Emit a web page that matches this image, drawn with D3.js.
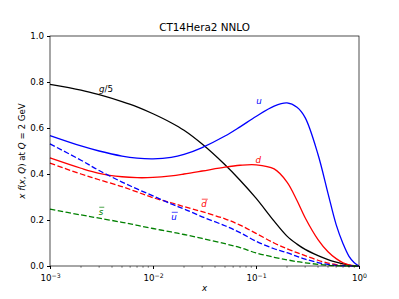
<!DOCTYPE html>
<html>
<head>
<meta charset="utf-8">
<script src="https://cdn.jsdelivr.net/npm/d3@7"></script>
<style>
  body { margin: 0; background: #fff; }
  svg { font-family: "DejaVu Sans", sans-serif; }
</style>
</head>
<body>
<svg id="chart" width="399" height="299"></svg>
<script>
// x grid the curves were read at
const xs = [0.001, 0.002, 0.003, 0.005, 0.007, 0.01, 0.015, 0.02, 0.03, 0.05, 0.07,
            0.1, 0.15, 0.2, 0.25, 0.3, 0.4, 0.5, 0.6, 0.7, 0.8, 0.9, 1.0];

const gluon5 = [0.79, 0.765, 0.745, 0.715, 0.692, 0.662, 0.623, 0.59, 0.53, 0.44, 0.373,
                0.295, 0.195, 0.13, 0.095, 0.072, 0.045, 0.028, 0.017, 0.009, 0.004, 0.001, 0];
const uVal = [0.567, 0.522, 0.50, 0.478, 0.469, 0.466, 0.472, 0.485, 0.515, 0.565, 0.605,
              0.65, 0.695, 0.709, 0.69, 0.645, 0.485, 0.316, 0.18, 0.097, 0.042, 0.014, 0];
const dVal = [0.47, 0.425, 0.403, 0.388, 0.384, 0.385, 0.392, 0.40, 0.413, 0.43, 0.438,
              0.44, 0.422, 0.365, 0.285, 0.21, 0.115, 0.062, 0.032, 0.014, 0.005, 0.001, 0];
const dbar = [0.447, 0.40, 0.375, 0.345, 0.322, 0.297, 0.275, 0.258, 0.236, 0.205, 0.178,
              0.142, 0.10, 0.075, 0.058, 0.045, 0.025, 0.013, 0.006, 0.0025, 0.0008, 0.0001, 0];
const ubar = [0.531, 0.46, 0.415, 0.365, 0.335, 0.305, 0.27, 0.248, 0.214, 0.175, 0.145,
              0.108, 0.075, 0.058, 0.042, 0.03, 0.015, 0.007, 0.003, 0.001, 0.0003, 0, 0];
const sbar = [0.247, 0.222, 0.208, 0.19, 0.177, 0.163, 0.148, 0.137, 0.12, 0.097, 0.08,
              0.057, 0.038, 0.027, 0.019, 0.014, 0.007, 0.003, 0.0012, 0.0004, 0.0001, 0, 0];

const yTicks = [0.0, 0.2, 0.4, 0.6, 0.8, 1.0];
const xTicks = [1e-3, 1e-2, 1e-1, 1];
const xTickExp = ["\u22123", "\u22122", "\u22121", "0"];

const series = [
  {vals: gluon5, color: "black", dash: null},
  {vals: uVal, color: "blue", dash: null},
  {vals: dVal, color: "red", dash: null},
  {vals: dbar, color: "red", dash: "5.5,2.4"},
  {vals: ubar, color: "blue", dash: "5.5,2.4"},
  {vals: sbar, color: "green", dash: "5.5,2.4"}
];

// curve labels
const labels = [
  {t: "g/5", bar: false, x: 0.0035, y: 0.758, color: "black"},
  {t: "u", bar: false, x: 0.107, y: 0.704, color: "blue"},
  {t: "d", bar: false, x: 0.105, y: 0.448, color: "red"},
  {t: "d", bar: true, x: 0.0313, y: 0.257, color: "red"},
  {t: "u", bar: true, x: 0.016, y: 0.20, color: "blue"},
  {t: "s", bar: true, x: 0.00313, y: 0.222, color: "green"}
];

const svg = d3.select("#chart");
const mLeft = 50, mRight = 359, mTop = 36, mBottom = 266;

const x = d3.scaleLog().domain([1e-3, 1]).range([mLeft, mRight]);
const y = d3.scaleLinear().domain([0, 1]).range([mBottom, mTop]);

// curves
const line = d3.line()
  .x(d => x(d[0]))
  .y(d => y(d[1]))
  .curve(d3.curveCatmullRom.alpha(0.5));

svg.append("g").selectAll("path")
  .data(series)
  .enter().append("path")
  .attr("d", s => line(xs.map((v, i) => [v, s.vals[i]])))
  .attr("fill", "none")
  .attr("stroke", s => s.color)
  .attr("stroke-width", 1.3)
  .attr("stroke-dasharray", s => s.dash);

// y axis
const yAxis = d3.axisLeft(y).tickValues(yTicks).tickSize(3).tickPadding(3)
  .tickFormat(d3.format(".1f"));
svg.append("g").attr("transform", `translate(${mLeft},0)`).call(yAxis)
  .call(g => g.select(".domain").remove())
  .call(g => g.selectAll("text").attr("font-size", 8.7).attr("fill", "#000")
    .attr("font-family", "DejaVu Sans"));

// x axis major + minor
const minor = [];
for (let e = -3; e < 0; e++) for (let m = 2; m <= 9; m++) minor.push(m * Math.pow(10, e));

const xAxis = d3.axisBottom(x).tickValues(xTicks).tickSize(3).tickPadding(3).tickFormat("");
const gx = svg.append("g").attr("transform", `translate(0,${mBottom})`).call(xAxis);
gx.select(".domain").remove();
gx.selectAll(".tick text").each(function(d, i) {
  const t = d3.select(this).attr("font-size", 8.7).attr("fill", "#000")
    .attr("font-family", "DejaVu Sans").attr("dy", "1.05em");
  t.append("tspan").text("10");
  t.append("tspan").attr("font-size", 6.2).attr("dy", "-0.45em").text(xTickExp[i]);
});

svg.append("g").selectAll("line")
  .data(minor)
  .enter().append("line")
  .attr("x1", d => x(d)).attr("x2", d => x(d))
  .attr("y1", mBottom).attr("y2", mBottom + 1.8)
  .attr("stroke", "#000").attr("stroke-width", 0.5);

// frame
svg.append("rect")
  .attr("x", mLeft).attr("y", mTop)
  .attr("width", mRight - mLeft).attr("height", mBottom - mTop)
  .attr("fill", "none").attr("stroke", "#000").attr("stroke-width", 0.7);

// curve labels
labels.forEach(l => {
  const t = svg.append("text")
    .attr("x", x(l.x)).attr("y", y(l.y))
    .attr("font-size", 8.7)
    .attr("font-style", l.t === "g/5" ? "normal" : "italic")
    .attr("fill", l.color)
    .attr("text-anchor", "middle")
    .text(l.t === "g/5" ? "" : l.t);
  if (l.t === "g/5") {
    t.append("tspan").attr("font-style", "italic").text("g");
    t.append("tspan").text("/5");
  }
  if (l.bar) {
    const b = t.node().getBBox();
    svg.append("line")
      .attr("x1", b.x + 0.5).attr("x2", b.x + b.width + 0.5)
      .attr("y1", b.y + 0.3).attr("y2", b.y + 0.3)
      .attr("stroke", l.color).attr("stroke-width", 0.7);
  }
});

// title and axis labels
svg.append("text")
  .attr("x", (mLeft + mRight) / 2).attr("y", 30.5)
  .attr("text-anchor", "middle").attr("font-size", 10.4)
  .text("CT14Hera2 NNLO");

svg.append("text")
  .attr("x", (mLeft + mRight) / 2).attr("y", 291)
  .attr("text-anchor", "middle").attr("font-size", 8.7).attr("font-style", "italic")
  .text("x");

const yl = svg.append("text")
  .attr("transform", `translate(25,${(mTop + mBottom) / 2}) rotate(-90)`)
  .attr("text-anchor", "middle").attr("font-size", 8.7);
yl.append("tspan").attr("font-style", "italic").text("x f");
yl.append("tspan").text("(");
yl.append("tspan").attr("font-style", "italic").text("x");
yl.append("tspan").text(", ");
yl.append("tspan").attr("font-style", "italic").text("Q");
yl.append("tspan").text(") at ");
yl.append("tspan").attr("font-style", "italic").text("Q");
yl.append("tspan").text(" = 2 GeV");
</script>
</body>
</html>
